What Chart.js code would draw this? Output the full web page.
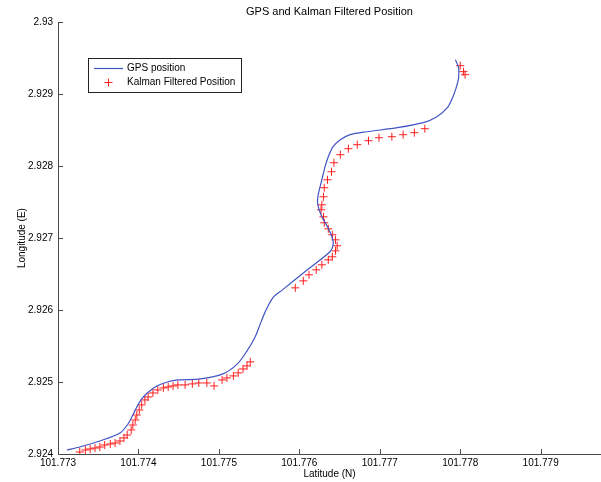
<!DOCTYPE html>
<html>
<head>
<meta charset="utf-8">
<script src="https://cdn.jsdelivr.net/npm/chart.js@4/dist/chart.umd.min.js"></script>
<style>
    html, body { margin: 0; padding: 0; background: #fff; }
    #wrap { width: 601px; height: 482px; }
</style>
</head>
<body>
<div id="wrap"><canvas id="posChart" width="601" height="482"></canvas></div>
<script>
// GPS track (latitude / longitude)
var gpsLat = [101.77311, 101.77327, 101.77352, 101.77377, 101.77387, 101.77393, 101.77398, 101.77404,
    101.77411, 101.77423, 101.77436, 101.77449, 101.77477, 101.77505, 101.77523, 101.77535, 101.77545,
    101.77551, 101.77557, 101.77567, 101.77579, 101.77610, 101.77638, 101.77642, 101.77641, 101.77635,
    101.77628, 101.77623, 101.77623, 101.77628, 101.77632, 101.77636, 101.77642, 101.77651, 101.77663,
    101.77684, 101.77722, 101.77754, 101.77771, 101.77784, 101.77791, 101.77795, 101.77798, 101.77798,
    101.77795, 101.77794];
var gpsLon = [2.924056, 2.924097, 2.924181, 2.924292, 2.924417, 2.924542, 2.924654, 2.924765,
    2.924848, 2.924946, 2.925001, 2.925029, 2.925043, 2.925113, 2.925252, 2.925433, 2.925627,
    2.925794, 2.925961, 2.926170, 2.926281, 2.926559, 2.926810, 2.926907, 2.927004, 2.927157,
    2.927296, 2.927463, 2.927574, 2.927811, 2.927992, 2.928131, 2.928270, 2.928367, 2.928437,
    2.928478, 2.928534, 2.928604, 2.928687, 2.928812, 2.928965, 2.929090, 2.929230, 2.929369,
    2.929452, 2.929480];

// Kalman filtered estimates
var kalLat = [101.77327, 101.77334, 101.77340, 101.77346, 101.77352, 101.77358, 101.77365, 101.77371,
    101.77377, 101.77382, 101.77386, 101.77391, 101.77393, 101.77396, 101.77398, 101.77401, 101.77404,
    101.77408, 101.77412, 101.77418, 101.77424, 101.77431, 101.77437, 101.77443, 101.77449, 101.77458,
    101.77467, 101.77475, 101.77485, 101.77494, 101.77504, 101.77510, 101.77518, 101.77524, 101.77530,
    101.77535, 101.77539, 101.77595, 101.77605, 101.77612, 101.77621, 101.77628, 101.77636, 101.77641,
    101.77645, 101.77647, 101.77645, 101.77641, 101.77636, 101.77631, 101.77630, 101.77627, 101.77628,
    101.77630, 101.77631, 101.77635, 101.77640, 101.77643, 101.77651, 101.77661, 101.77672, 101.77686,
    101.77699, 101.77715, 101.77729, 101.77743, 101.77756, 101.77800, 101.77804, 101.77806];
var kalLon = [2.924028, 2.924056, 2.924070, 2.924083, 2.924097, 2.924125, 2.924139, 2.924153,
    2.924181, 2.924223, 2.924264, 2.924334, 2.924403, 2.924473, 2.924542, 2.924612, 2.924682,
    2.924751, 2.924793, 2.924848, 2.924890, 2.924918, 2.924932, 2.924946, 2.924960, 2.924960,
    2.924974, 2.924987, 2.924987, 2.924946, 2.925029, 2.925057, 2.925085, 2.925127, 2.925182,
    2.925224, 2.925280, 2.926309, 2.926406, 2.926490, 2.926559, 2.926629, 2.926698, 2.926740,
    2.926823, 2.926893, 2.926976, 2.927046, 2.927129, 2.927213, 2.927296, 2.927394, 2.927463,
    2.927574, 2.927700, 2.927811, 2.927922, 2.928047, 2.928159, 2.928242, 2.928298, 2.928353,
    2.928395, 2.928409, 2.928437, 2.928465, 2.928520, 2.929396, 2.929313, 2.929271];

var xTicks = [101.773, 101.774, 101.775, 101.776, 101.777, 101.778, 101.779];
var yTicks = [2.924, 2.925, 2.926, 2.927, 2.928, 2.929, 2.93];
var seriesNames = ["GPS position", "Kalman Filtered Position"];

var FONT = "'Liberation Sans', Arial, sans-serif";
var BLUE = "rgb(66, 84, 196)";
var RED = "rgb(255, 30, 30)";
var AXIS = "#4a4a4a";

function toPoints(xs, ys) {
    var pts = [];
    for (var i = 0; i < xs.length; i++) {
        pts.push({ x: xs[i], y: ys[i] });
    }
    return pts;
}

// matlab style ticks pointing into the axes
var inwardTicks = {
    id: 'inwardTicks',
    afterDraw: function (chart) {
        var ctx = chart.ctx, a = chart.chartArea;
        var xs = chart.scales.x, ys = chart.scales.y;
        ctx.save();
        ctx.strokeStyle = AXIS;
        ctx.lineWidth = 1;
        ctx.beginPath();
        xTicks.forEach(function (v) {
            var px = Math.round(xs.getPixelForValue(v)) + 0.5;
            ctx.moveTo(px, a.bottom);
            ctx.lineTo(px, a.bottom - 5);
        });
        yTicks.forEach(function (v) {
            var py = Math.round(ys.getPixelForValue(v)) + 0.5;
            ctx.moveTo(a.left, py);
            ctx.lineTo(a.left + 5, py);
        });
        ctx.stroke();
        ctx.restore();
    }
};

// boxed legend inside the axes, like the original figure
var boxLegend = {
    id: 'boxLegend',
    afterDraw: function (chart) {
        var ctx = chart.ctx;
        var bx = 88, by = 58, bw = 153, bh = 34;
        ctx.save();
        ctx.fillStyle = '#fff';
        ctx.fillRect(bx, by, bw, bh);
        ctx.strokeStyle = '#222';
        ctx.lineWidth = 1;
        ctx.strokeRect(bx + 0.5, by + 0.5, bw, bh);

        ctx.strokeStyle = BLUE;
        ctx.lineWidth = 1.2;
        ctx.beginPath();
        ctx.moveTo(94, 68.5);
        ctx.lineTo(123, 68.5);
        ctx.stroke();

        ctx.strokeStyle = RED;
        ctx.lineWidth = 1;
        ctx.beginPath();
        ctx.moveTo(104.5, 82.5);
        ctx.lineTo(112.5, 82.5);
        ctx.moveTo(108.5, 78.5);
        ctx.lineTo(108.5, 86.5);
        ctx.stroke();

        ctx.fillStyle = '#000';
        ctx.font = '10px ' + FONT;
        ctx.textBaseline = 'middle';
        ctx.fillText(seriesNames[0], 127, 68.5);
        ctx.fillText(seriesNames[1], 127, 82.5);
        ctx.restore();
    }
};

var ctx = document.getElementById('posChart').getContext('2d');
var posChart = new Chart(ctx, {
    type: 'scatter',
    data: {
        datasets: [{
            label: seriesNames[0],
            data: toPoints(gpsLat, gpsLon),
            showLine: true,
            borderColor: BLUE,
            borderWidth: 1.2,
            pointRadius: 0,
            tension: 0.3
        }, {
            label: seriesNames[1],
            data: toPoints(kalLat, kalLon),
            showLine: false,
            pointStyle: 'cross',
            pointRadius: 4,
            borderColor: RED,
            backgroundColor: RED,
            pointBorderWidth: 1
        }]
    },
    options: {
        responsive: false,
        animation: false,
        layout: { padding: 0, autoPadding: false },
        scales: {
            x: {
                type: 'linear',
                min: 101.773,
                max: 101.77975,
                afterBuildTicks: function (s) {
                    s.ticks = xTicks.map(function (v) { return { value: v }; });
                },
                afterFit: function (s) {
                    s.height = 28;
                    s.paddingRight = 0;
                },
                grid: { display: false, drawTicks: false },
                border: { display: true, color: AXIS, width: 1 },
                ticks: {
                    color: '#000',
                    padding: 3,
                    maxRotation: 0,
                    autoSkip: false,
                    font: { family: FONT, size: 10 },
                    callback: function (v) { return (+v).toFixed(3); }
                },
                title: {
                    display: true,
                    text: 'Latitude (N)',
                    color: '#000',
                    font: { family: FONT, size: 10 },
                    padding: { top: 0, bottom: 2 }
                }
            },
            y: {
                type: 'linear',
                min: 2.924,
                max: 2.93,
                afterBuildTicks: function (s) {
                    s.ticks = yTicks.map(function (v) { return { value: v }; });
                },
                afterFit: function (s) { s.width = 58; },
                grid: { display: false, drawTicks: false },
                border: { display: true, color: AXIS, width: 1 },
                ticks: {
                    color: '#000',
                    padding: 5,
                    autoSkip: false,
                    font: { family: FONT, size: 10 },
                    callback: function (v) { return String(+(+v).toFixed(3)); }
                },
                title: {
                    display: true,
                    text: 'Longitude (E)',
                    color: '#000',
                    font: { family: FONT, size: 10 },
                    padding: { top: 16, bottom: 0 }
                }
            }
        },
        plugins: {
            legend: { display: false },
            tooltip: { enabled: false },
            title: {
                display: true,
                fullSize: false,
                text: 'GPS and Kalman Filtered Position',
                color: '#000',
                font: { family: FONT, size: 11, weight: 'normal' },
                padding: { top: 5, bottom: 4 }
            }
        }
    },
    plugins: [inwardTicks, boxLegend]
});
</script>
</body>
</html>
